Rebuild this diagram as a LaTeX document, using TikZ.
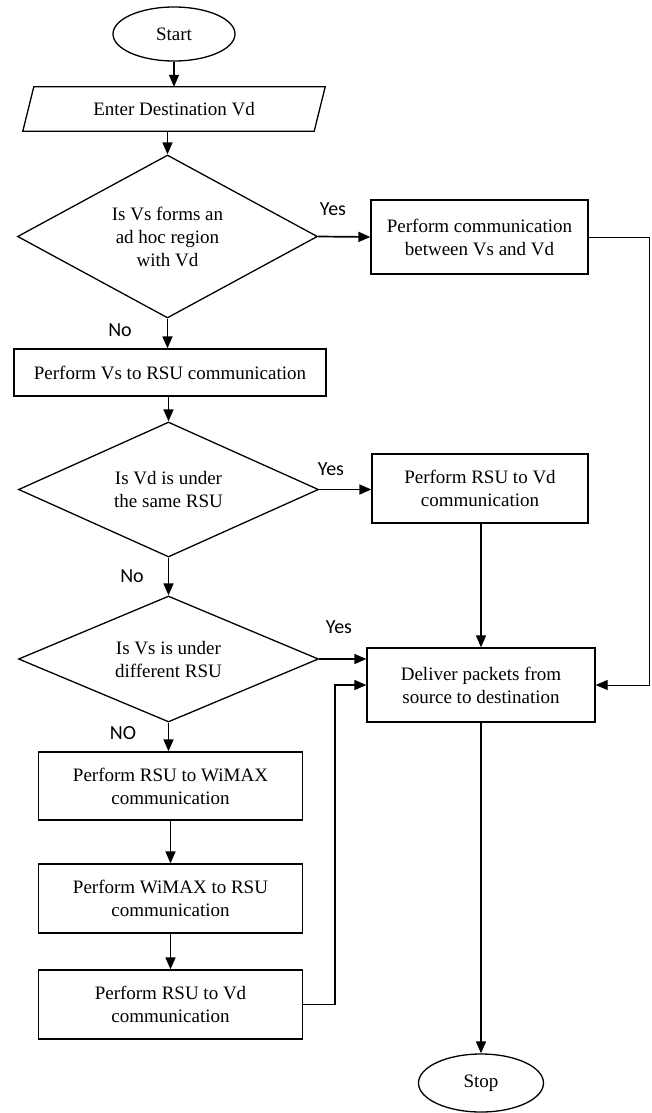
\documentclass[tikz,border=0pt]{standalone}
\usepackage{fontspec}
\setmainfont{Liberation Serif}
\newfontfamily\lblfont{Carlito}
\usetikzlibrary{shapes.geometric,arrows.meta}
\begin{document}
\begin{tikzpicture}[x=1pt,y=-1pt,
  every node/.style={font=\fontsize{19}{23}\selectfont, align=center, inner sep=0pt},
  proc/.style={draw, line width=1.3pt, rectangle},
  decis/.style={draw, line width=1.3pt, diamond, aspect=1.84},
  term/.style={draw, line width=1.3pt, ellipse},
  lbl/.style={font=\lblfont\fontsize{20}{24}\selectfont},
  arr/.style={line width=1.7pt, -{Triangle[length=12pt,width=10pt]}},
  thinarr/.style={line width=0.9pt, -{Triangle[length=12pt,width=10pt]}},
]
\useasboundingbox (0,0) rectangle (651,1113);

% nodes
\node[term, minimum width=122pt, minimum height=54pt] (start) at (174,34) {Start};
\node[minimum width=291pt, minimum height=44pt] (enter) at (174,109) {Enter Destination Vd};
\draw[line width=1.3pt] ([xshift=-5.5pt]enter.south west) -- ([xshift=5.5pt]enter.north west)
  -- ([xshift=5.5pt]enter.north east) -- ([xshift=-5.5pt]enter.south east) -- cycle;
\node[decis, minimum width=300pt, minimum height=163pt] (d1) at (167.5,236.5) {Is Vs forms an\\ad hoc region\\with Vd};
\node[proc, minimum width=217pt, minimum height=74pt] (b1) at (479.5,237) {Perform communication\\between Vs and Vd};
\node[proc, minimum width=312pt, minimum height=47pt] (b2) at (170,372.5) {Perform Vs to RSU communication};
\node[decis, minimum width=300pt, minimum height=135pt] (d2) at (168.5,489.5) {Is Vd is under\\the same RSU};
\node[proc, minimum width=216pt, minimum height=69pt] (b3) at (480,488.5) {Perform RSU to Vd\\communication};
\node[decis, minimum width=300pt, minimum height=126pt] (d3) at (168.5,659) {Is Vs is under\\different RSU};
\node[proc, minimum width=228pt, minimum height=74pt] (deliver) at (481,685) {Deliver packets from\\source to destination};
\node[proc, minimum width=264pt, minimum height=68pt] (b4) at (170.5,786) {Perform RSU to WiMAX\\communication};
\node[proc, minimum width=264pt, minimum height=69pt] (b5) at (170.5,898.5) {Perform WiMAX to RSU\\communication};
\node[proc, minimum width=264pt, minimum height=69pt] (b6) at (170.5,1004.5) {Perform RSU to Vd\\communication};
\node[term, minimum width=125pt, minimum height=58pt] (stop) at (481,1083) {Stop};

% labels
\node[lbl] (y1) at (333,209) {Yes};
\node[lbl] (n1) at (120,330) {No};
\node[lbl] (y2) at (331,469) {Yes};
\node[lbl] (n2) at (132,576) {No};
\node[lbl] (y3) at (339,627) {Yes};
\node[lbl] (n3) at (123,733) {NO};

% connectors
\coordinate (rt) at (649,237);
\coordinate (lt) at (335,1004.5);
\draw[arr] (start) -- (enter);
\draw[arr] (enter.south -| d1.north) -- (d1.north);
\draw[arr] (d1.east) -- (b1.west);
\draw[thinarr] (b1.east) -- (rt) |- (deliver.east);
\draw[arr] (d1.south) -- (d1.south |- b2.north);
\draw[arr] (b2.south -| d2.north) -- (d2.north);
\draw[arr] (d2.east) -- (d2.east -| b3.west);
\draw[arr] (b3.south -| deliver.north) -- (deliver.north);
\draw[arr] (d2.south) -- (d3.north);
\draw[arr] (d3.east) -- (d3.east -| deliver.west);
\draw[arr] (d3.south) -- (d3.south |- b4.north);
\draw[arr] (b4) -- (b5);
\draw[arr] (b5) -- (b6);
\draw[arr] (b6.east) -- (lt) |- (deliver.west);
\draw[arr] (deliver) -- (stop);
\end{tikzpicture}
\end{document}
